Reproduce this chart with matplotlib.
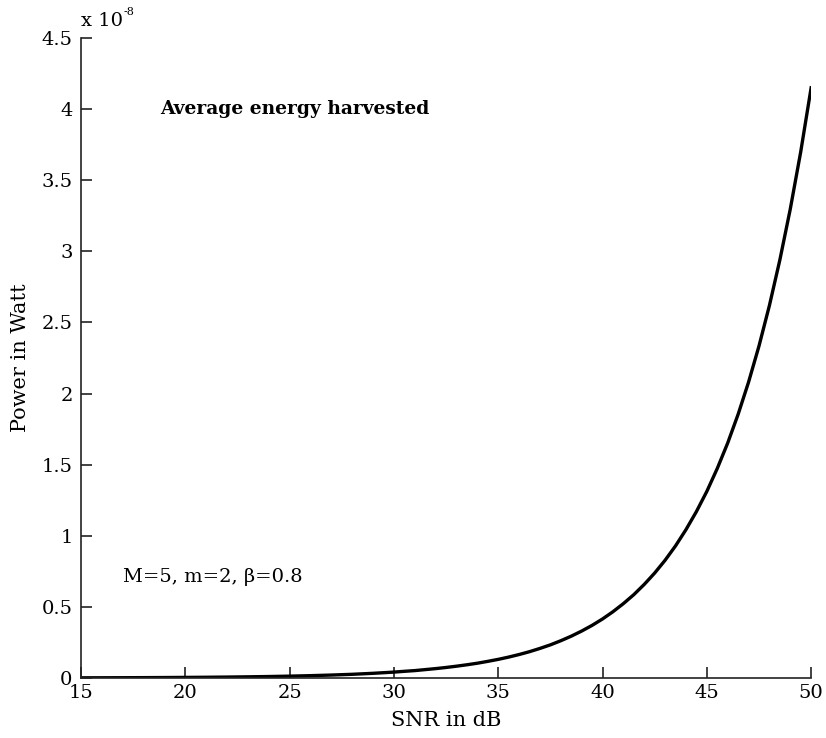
import matplotlib.pyplot as plt

# SNR (dB) and average harvested power (x 1e-8 W)
snr_db = [15, 16, 17, 18, 19, 20, 21, 22, 23, 24, 25, 26, 27, 28, 29,
          30, 30.5, 31, 31.5, 32, 32.5, 33, 33.5, 34, 34.5, 35, 35.5, 36, 36.5,
          37, 37.5, 38, 38.5, 39, 39.5, 40, 40.5, 41, 41.5, 42, 42.5, 43, 43.5,
          44, 44.5, 45, 45.5, 46, 46.5, 47, 47.5, 48, 48.5, 49, 49.5, 50]
power_e8 = [0.0013, 0.0017, 0.0021, 0.0026, 0.0033, 0.0042, 0.0052, 0.0066, 0.0083,
            0.0104, 0.0131, 0.0165, 0.0207, 0.026, 0.033,
            0.0415, 0.047, 0.052, 0.059, 0.066, 0.074, 0.083, 0.093, 0.104, 0.117,
            0.131, 0.147, 0.165, 0.185, 0.208, 0.233, 0.262, 0.294, 0.330, 0.370,
            0.415, 0.466, 0.523, 0.586, 0.658, 0.738, 0.828, 0.929, 1.043, 1.170,
            1.312, 1.473, 1.652, 1.854, 2.080, 2.334, 2.619, 2.939, 3.297, 3.699, 4.15]

x_ticks = [15, 20, 25, 30, 35, 40, 45, 50]
y_ticks = [0, 0.5, 1, 1.5, 2, 2.5, 3, 3.5, 4, 4.5]
y_ticklabels = ['0', '0.5', '1', '1.5', '2', '2.5', '3', '3.5', '4', '4.5']

plt.rcParams['font.family'] = ['DejaVu Serif']

fig = plt.figure(figsize=(8.26, 7.38), dpi=100)
ax = fig.add_axes([0.098, 0.0813, 0.884, 0.8672])

ax.plot(snr_db, power_e8, color='black', linewidth=2.4)

ax.set_xlim(15, 50)
ax.set_ylim(0, 4.5)
ax.set_xticks(x_ticks)
ax.set_yticks(y_ticks)
ax.set_yticklabels(y_ticklabels)

for side in ['top', 'right']:
    ax.spines[side].set_visible(False)
for side in ['left', 'bottom']:
    ax.spines[side].set_linewidth(1.2)
    ax.spines[side].set_color('#222222')

ax.tick_params(direction='in', length=8, width=1.2, labelsize=14, color='#222222')
ax.tick_params(axis='y', pad=6)
ax.tick_params(axis='x', pad=4)

ax.set_xlabel('SNR in dB', fontsize=15, labelpad=7)
ax.set_ylabel('Power in Watt', fontsize=15, labelpad=8)

# exponent marker in the MATLAB style
ax.text(0.0, 1.012, 'x 10', transform=ax.transAxes, fontsize=14, ha='left', va='bottom')
ax.text(0.058, 1.033, '-8', transform=ax.transAxes, fontsize=8, ha='left', va='bottom')

ax.text(18.8, 4.0, 'Average energy harvested', fontsize=13.4, fontweight='bold', va='center')
ax.text(17.0, 0.71, 'M=5, m=2, \u03b2=0.8', fontsize=14, va='center')

plt.savefig('out.png', dpi=100)
